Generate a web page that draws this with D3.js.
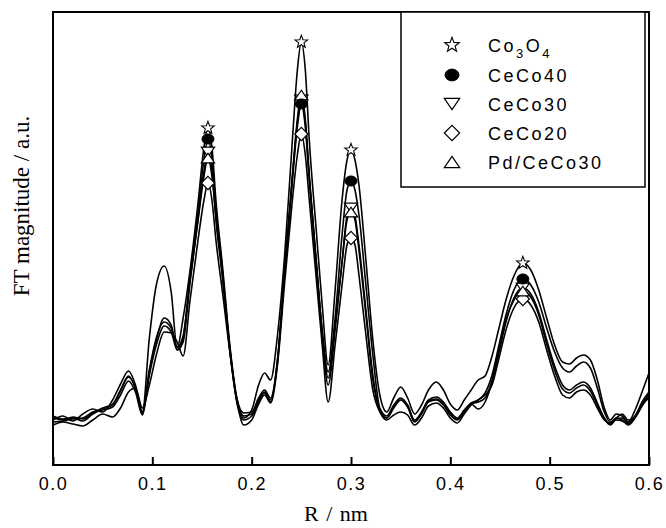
<!DOCTYPE html>
<html>
<head>
<meta charset="utf-8">
<script src="https://cdn.jsdelivr.net/npm/d3@7"></script>
<style>
html,body{margin:0;padding:0;background:#fff;}
svg{display:block;}
</style>
</head>
<body>
<svg id="chart" width="666" height="528"></svg>
<script>
// R (nm) sampling positions
const R = [0.000,0.010,0.020,0.030,0.040,0.050,0.060,0.068,0.076,0.083,
           0.090,0.097,0.104,0.112,0.119,0.125,0.131,0.138,0.146,0.152,
           0.156,0.160,0.164,0.171,0.178,0.185,0.192,0.200,0.207,0.213,
           0.219,0.226,0.233,0.241,0.246,0.250,0.254,0.258,0.265,0.271,
           0.277,0.284,0.291,0.296,0.300,0.304,0.308,0.315,0.322,0.329,
           0.336,0.343,0.350,0.357,0.364,0.371,0.378,0.386,0.393,0.400,
           0.407,0.414,0.421,0.428,0.435,0.442,0.449,0.456,0.464,0.473,
           0.481,0.489,0.497,0.505,0.513,0.520,0.527,0.534,0.541,0.548,
           0.555,0.561,0.567,0.573,0.579,0.586,0.593,0.600];

// FT magnitude (a.u.)
const co3o4 = [45,49,44,51,56,53,65,81,94,80,
               53,127,180,199,173,117,147,195,262,318,
               337,318,265,195,120,67,47,55,80,92,
               85,130,207,325,395,423,395,325,235,160,
               100,175,265,305,315,305,280,205,125,70,
               53,67,78,67,51,60,75,83,75,61,
               55,65,75,85,89,109,137,165,189,202,
               195,175,147,120,103,101,107,110,105,85,
               57,45,51,49,43,55,73,92];
const ceco40 = [49,46,47,44,51,56,60,74,88,77,
                51,93,125,147,140,115,127,190,252,306,
                326,306,255,190,118,67,52,53,67,75,
                67,105,190,285,338,361,338,285,200,135,
                93,147,230,275,284,275,250,180,110,57,
                49,60,67,60,45,53,65,68,63,53,
                47,55,62,65,72,90,120,150,175,186,
                180,163,137,113,97,93,99,103,97,77,
                53,43,47,51,45,49,63,73];
const ceco30 = [43,44,46,47,53,55,58,70,84,73,
                50,90,120,139,133,115,123,183,245,294,
                313,294,245,185,115,63,45,49,63,72,
                63,103,190,287,342,365,342,287,203,130,
                80,135,203,249,257,249,220,155,90,55,
                47,57,65,58,43,51,63,65,60,50,
                45,53,61,56,63,83,113,143,167,177,
                171,153,125,99,80,75,80,83,77,62,
                47,41,47,45,40,47,59,70];
const ceco20 = [40,43,41,39,45,51,48,57,73,77,
                57,80,110,133,132,123,109,165,225,265,
                282,265,225,170,113,65,40,45,61,70,
                62,100,180,265,310,331,310,265,187,120,
                63,120,180,220,227,220,190,130,75,53,
                45,50,53,50,40,47,59,62,57,47,
                42,51,60,65,70,80,107,135,157,166,
                160,143,115,89,70,67,73,75,70,57,
                45,42,45,44,41,49,60,67];
const pdceco30 = [47,45,48,46,52,57,61,75,89,77,
                  53,95,127,143,137,118,129,185,245,289,
                  307,289,250,185,115,65,49,51,65,73,
                  65,105,193,290,346,370,346,290,205,133,
                  87,140,203,245,253,245,215,150,85,55,
                  47,58,65,59,44,52,64,66,61,51,
                  46,54,61,63,67,85,115,145,165,174,
                  168,150,121,95,76,72,77,80,74,60,
                  46,40,46,47,42,48,61,71];

const seriesNames = ["Co3O4","CeCo40","CeCo30","CeCo20","Pd/CeCo30"];
const seriesValues = [co3o4, ceco40, ceco30, ceco20, pdceco30];
const markerTypes = ["star","circle","down","diamond","up"];
// indices of the marked peaks (R = 0.156, 0.250, 0.300, 0.473 nm)
const peakIndex = [20, 35, 44, 69];
const xTicks = [0.0,0.1,0.2,0.3,0.4,0.5,0.6];

const svg = d3.select("#chart");
const L = 53, Rt = 649, T = 12, B = 465;
const x = d3.scaleLinear().domain([0, 0.6]).range([L, Rt]);
const y = d3.scaleLinear().domain([0, 453]).range([B, T]);

svg.append("defs").append("clipPath").attr("id","clip")
  .append("rect").attr("x",L).attr("y",T).attr("width",Rt-L).attr("height",B-T);

// curves
const line = d3.line()
  .x((d,i)=>x(R[i]))
  .y(d=>y(d))
  .curve(d3.curveMonotoneX);

const gLines = svg.append("g").attr("clip-path","url(#clip)");
seriesValues.forEach(vals=>{
  gLines.append("path").attr("d", line(vals))
    .attr("fill","none").attr("stroke","#000").attr("stroke-width",1.6)
    .attr("stroke-linejoin","round");
});

// marker drawing
function starPath(r){
  const ri = r*0.42; let p = "";
  for(let k=0;k<10;k++){
    const rr = k%2===0 ? r : ri;
    const a = -Math.PI/2 + k*Math.PI/5;
    p += (k===0?"M":"L") + (rr*Math.cos(a)).toFixed(2) + "," + (rr*Math.sin(a)).toFixed(2);
  }
  return p + "Z";
}
function drawMarker(g, type, cx, cy, s){
  if(type==="star"){
    g.append("path").attr("d", starPath(s*0.55)).attr("transform",`translate(${cx},${cy})`)
      .attr("fill","#fff").attr("stroke","#000").attr("stroke-width",1.1);
  } else if(type==="circle"){
    g.append("ellipse").attr("cx",cx).attr("cy",cy).attr("rx",s*0.5).attr("ry",s*0.42)
      .attr("fill","#000").attr("stroke","#000").attr("stroke-width",1);
  } else if(type==="down"){
    const h=s*0.8, w=s*0.55;
    g.append("path").attr("d",`M${-w},${-h/2}L${w},${-h/2}L0,${h/2}Z`).attr("transform",`translate(${cx},${cy})`)
      .attr("fill","#fff").attr("stroke","#000").attr("stroke-width",1.2);
  } else if(type==="up"){
    const h=s*0.8, w=s*0.55;
    g.append("path").attr("d",`M${-w},${h/2}L${w},${h/2}L0,${-h/2}Z`).attr("transform",`translate(${cx},${cy})`)
      .attr("fill","#fff").attr("stroke","#000").attr("stroke-width",1.2);
  } else if(type==="diamond"){
    const r=s*0.55;
    g.append("path").attr("d",`M0,${-r}L${r},0L0,${r}L${-r},0Z`).attr("transform",`translate(${cx},${cy})`)
      .attr("fill","#fff").attr("stroke","#000").attr("stroke-width",1.2);
  }
}

const gMarks = svg.append("g");
const drawOrder = [3,2,4,1,0];
drawOrder.forEach(si=>{
  peakIndex.forEach(pi=>{
    drawMarker(gMarks, markerTypes[si], x(R[pi]), y(seriesValues[si][pi]), 12);
  });
});

// frame
svg.append("rect").attr("x",L).attr("y",T).attr("width",Rt-L).attr("height",B-T)
  .attr("fill","none").attr("stroke","#000").attr("stroke-width",2);

// x axis
const xAxis = d3.axisBottom(x).tickValues(xTicks).tickSize(-8).tickPadding(12)
  .tickFormat(d3.format(".1f"));
const gx = svg.append("g").attr("transform",`translate(0,${B})`).call(xAxis);
gx.select(".domain").remove();
gx.selectAll(".tick line").attr("stroke","#000").attr("stroke-width",2);
gx.selectAll(".tick text").attr("fill","#000")
  .style("font-family","'Liberation Sans', Arial, sans-serif").style("font-size","18px")
  .style("letter-spacing","1.5px");

// axis titles
svg.append("text").attr("x",336).attr("y",521).attr("text-anchor","middle")
  .style("font-family","'Liberation Serif','Times New Roman',serif").style("font-size","22px")
  .style("word-spacing","2px")
  .text("R / nm");
svg.append("text").attr("transform","translate(29,206) rotate(-90)").attr("text-anchor","middle")
  .style("font-family","'Liberation Serif','Times New Roman',serif").style("font-size","23px")
  .text("FT magnitude / a.u.");

// legend
const lg = svg.append("g");
lg.append("rect").attr("x",401).attr("y",T).attr("width",244).attr("height",175)
  .attr("fill","#fff").attr("stroke","#000").attr("stroke-width",1.5);
const rowY = [45,75,104,133,162];
seriesNames.forEach((name,i)=>{
  drawMarker(lg, markerTypes[i], 452, rowY[i], 14);
  const t = lg.append("text").attr("x",488).attr("y",rowY[i]+7)
    .style("font-family","'Liberation Sans', Arial, sans-serif").style("font-size","18px")
    .style("letter-spacing","2.5px");
  if(name==="Co3O4"){
    t.append("tspan").text("Co");
    t.append("tspan").attr("dy",6).style("font-size","13px").text("3");
    t.append("tspan").attr("dy",-6).text("O");
    t.append("tspan").attr("dy",6).style("font-size","13px").text("4");
  } else {
    t.text(name);
  }
});
</script>
</body>
</html>
